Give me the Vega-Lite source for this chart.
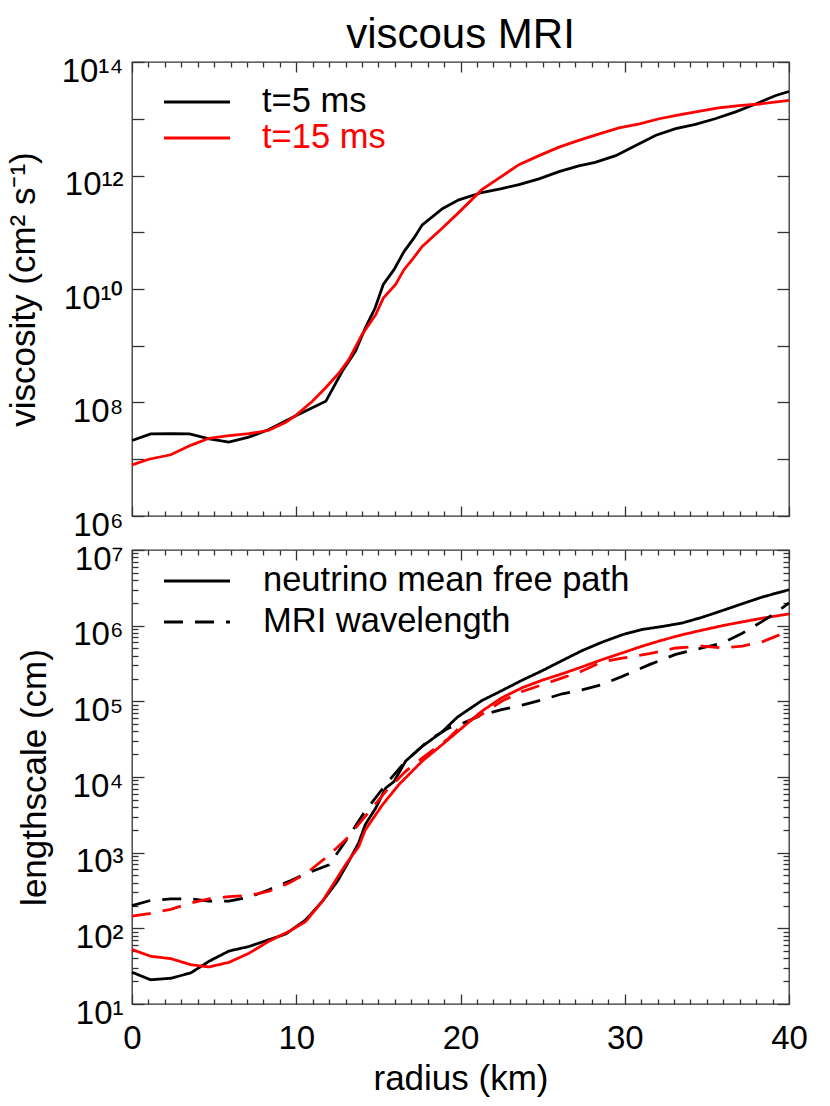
{
  "$schema": "https://vega.github.io/schema/vega-lite/v6.json",
  "padding": {"left": 5, "top": 13, "right": 5, "bottom": 5},
  "config": {
    "font": "Liberation Sans",
    "view": {"stroke": "#333333", "strokeWidth": 1.3},
    "axis": {"grid": false, "domain": false, "labelFontSize": 33, "titleFontSize": 35, "titleFontWeight": "normal", "labelColor": "#000000", "titleColor": "#000000", "tickColor": "#333333", "tickWidth": 1.3, "labelFlush": false, "labelOverlap": false, "labelBound": false},
    "legend": {"labelFontSize": 34.5, "labelLimit": 600}
  },
  "datasets": {
    "visc": [
      {"r": 0, "v": 2.14e7, "t": "t=5 ms"}, {"r": 1.14, "v": 2.79e7, "t": "t=5 ms"}, {"r": 2.4, "v": 2.82e7, "t": "t=5 ms"}, {"r": 3.5, "v": 2.79e7, "t": "t=5 ms"}, {"r": 4.7, "v": 2.28e7, "t": "t=5 ms"}, {"r": 5.9, "v": 2.0e7, "t": "t=5 ms"}, {"r": 7.1, "v": 2.45e7, "t": "t=5 ms"}, {"r": 8.3, "v": 3.31e7, "t": "t=5 ms"}, {"r": 10.0, "v": 5.89e7, "t": "t=5 ms"}, {"r": 11.8, "v": 1.05e8, "t": "t=5 ms"}, {"r": 12.8, "v": 3.55e8, "t": "t=5 ms"}, {"r": 13.6, "v": 7.94e8, "t": "t=5 ms"}, {"r": 14.2, "v": 2.04e9, "t": "t=5 ms"}, {"r": 14.8, "v": 4.62e9, "t": "t=5 ms"}, {"r": 15.3, "v": 1.2e10, "t": "t=5 ms"}, {"r": 15.95, "v": 2.19e10, "t": "t=5 ms"}, {"r": 16.56, "v": 4.57e10, "t": "t=5 ms"}, {"r": 17.17, "v": 7.94e10, "t": "t=5 ms"}, {"r": 17.67, "v": 1.35e11, "t": "t=5 ms"}, {"r": 18.9, "v": 2.6e11, "t": "t=5 ms"}, {"r": 19.9, "v": 3.72e11, "t": "t=5 ms"}, {"r": 21.3, "v": 5.01e11, "t": "t=5 ms"}, {"r": 22.5, "v": 5.89e11, "t": "t=5 ms"}, {"r": 23.56, "v": 6.92e11, "t": "t=5 ms"}, {"r": 24.78, "v": 8.71e11, "t": "t=5 ms"}, {"r": 26.0, "v": 1.17e12, "t": "t=5 ms"}, {"r": 27.2, "v": 1.48e12, "t": "t=5 ms"}, {"r": 28.2, "v": 1.7e12, "t": "t=5 ms"}, {"r": 29.45, "v": 2.24e12, "t": "t=5 ms"}, {"r": 30.67, "v": 3.39e12, "t": "t=5 ms"}, {"r": 31.9, "v": 5.13e12, "t": "t=5 ms"}, {"r": 33.1, "v": 6.68e12, "t": "t=5 ms"}, {"r": 34.3, "v": 7.94e12, "t": "t=5 ms"}, {"r": 35.5, "v": 1.0e13, "t": "t=5 ms"}, {"r": 36.75, "v": 1.32e13, "t": "t=5 ms"}, {"r": 37.97, "v": 1.82e13, "t": "t=5 ms"}, {"r": 39.2, "v": 2.57e13, "t": "t=5 ms"}, {"r": 40, "v": 3.02e13, "t": "t=5 ms"},
      {"r": 0, "v": 7.94e6, "t": "t=15 ms"}, {"r": 1.03, "v": 1.0e7, "t": "t=15 ms"}, {"r": 2.36, "v": 1.2e7, "t": "t=15 ms"}, {"r": 3.57, "v": 1.76e7, "t": "t=15 ms"}, {"r": 4.69, "v": 2.34e7, "t": "t=15 ms"}, {"r": 5.9, "v": 2.6e7, "t": "t=15 ms"}, {"r": 7.12, "v": 2.82e7, "t": "t=15 ms"}, {"r": 8.34, "v": 3.24e7, "t": "t=15 ms"}, {"r": 9.36, "v": 4.47e7, "t": "t=15 ms"}, {"r": 9.96, "v": 5.89e7, "t": "t=15 ms"}, {"r": 10.98, "v": 1.05e8, "t": "t=15 ms"}, {"r": 11.79, "v": 1.82e8, "t": "t=15 ms"}, {"r": 12.6, "v": 3.31e8, "t": "t=15 ms"}, {"r": 13.2, "v": 5.69e8, "t": "t=15 ms"}, {"r": 14.0, "v": 1.57e9, "t": "t=15 ms"}, {"r": 14.84, "v": 3.55e9, "t": "t=15 ms"}, {"r": 15.3, "v": 6.92e9, "t": "t=15 ms"}, {"r": 16.05, "v": 1.2e10, "t": "t=15 ms"}, {"r": 16.56, "v": 2.19e10, "t": "t=15 ms"}, {"r": 17.07, "v": 3.31e10, "t": "t=15 ms"}, {"r": 17.67, "v": 5.62e10, "t": "t=15 ms"}, {"r": 18.9, "v": 1.19e11, "t": "t=15 ms"}, {"r": 19.9, "v": 2.24e11, "t": "t=15 ms"}, {"r": 21.3, "v": 5.62e11, "t": "t=15 ms"}, {"r": 22.5, "v": 9.66e11, "t": "t=15 ms"}, {"r": 23.56, "v": 1.55e12, "t": "t=15 ms"}, {"r": 24.78, "v": 2.24e12, "t": "t=15 ms"}, {"r": 26.0, "v": 3.16e12, "t": "t=15 ms"}, {"r": 27.2, "v": 4.17e12, "t": "t=15 ms"}, {"r": 28.4, "v": 5.37e12, "t": "t=15 ms"}, {"r": 29.65, "v": 6.92e12, "t": "t=15 ms"}, {"r": 30.9, "v": 8.13e12, "t": "t=15 ms"}, {"r": 32.1, "v": 1.0e13, "t": "t=15 ms"}, {"r": 33.3, "v": 1.17e13, "t": "t=15 ms"}, {"r": 34.5, "v": 1.35e13, "t": "t=15 ms"}, {"r": 35.7, "v": 1.55e13, "t": "t=15 ms"}, {"r": 36.96, "v": 1.7e13, "t": "t=15 ms"}, {"r": 38.2, "v": 1.82e13, "t": "t=15 ms"}, {"r": 40, "v": 2.11e13, "t": "t=15 ms"}
    ],
    "len": [
      {"r": 0, "L": 26.3, "t": "t=5 ms", "q": "neutrino mean free path"}, {"r": 1.14, "L": 20.9, "t": "t=5 ms", "q": "neutrino mean free path"}, {"r": 2.36, "L": 21.9, "t": "t=5 ms", "q": "neutrino mean free path"}, {"r": 3.57, "L": 25.7, "t": "t=5 ms", "q": "neutrino mean free path"}, {"r": 4.69, "L": 36.7, "t": "t=5 ms", "q": "neutrino mean free path"}, {"r": 5.9, "L": 50.1, "t": "t=5 ms", "q": "neutrino mean free path"}, {"r": 7.12, "L": 57.5, "t": "t=5 ms", "q": "neutrino mean free path"}, {"r": 8.34, "L": 70.8, "t": "t=5 ms", "q": "neutrino mean free path"}, {"r": 9.36, "L": 84.1, "t": "t=5 ms", "q": "neutrino mean free path"}, {"r": 10.57, "L": 129, "t": "t=5 ms", "q": "neutrino mean free path"}, {"r": 11.6, "L": 229, "t": "t=5 ms", "q": "neutrino mean free path"}, {"r": 12.5, "L": 417, "t": "t=5 ms", "q": "neutrino mean free path"}, {"r": 13.2, "L": 769, "t": "t=5 ms", "q": "neutrino mean free path"}, {"r": 13.8, "L": 1349, "t": "t=5 ms", "q": "neutrino mean free path"}, {"r": 14.2, "L": 2344, "t": "t=5 ms", "q": "neutrino mean free path"}, {"r": 14.84, "L": 3890, "t": "t=5 ms", "q": "neutrino mean free path"}, {"r": 15.45, "L": 7161, "t": "t=5 ms", "q": "neutrino mean free path"}, {"r": 15.95, "L": 8710, "t": "t=5 ms", "q": "neutrino mean free path"}, {"r": 16.66, "L": 16220, "t": "t=5 ms", "q": "neutrino mean free path"}, {"r": 17.67, "L": 25410, "t": "t=5 ms", "q": "neutrino mean free path"}, {"r": 18.9, "L": 39810, "t": "t=5 ms", "q": "neutrino mean free path"}, {"r": 19.8, "L": 61660, "t": "t=5 ms", "q": "neutrino mean free path"}, {"r": 21.3, "L": 102300, "t": "t=5 ms", "q": "neutrino mean free path"}, {"r": 22.5, "L": 138000, "t": "t=5 ms", "q": "neutrino mean free path"}, {"r": 23.76, "L": 190500, "t": "t=5 ms", "q": "neutrino mean free path"}, {"r": 24.98, "L": 254100, "t": "t=5 ms", "q": "neutrino mean free path"}, {"r": 26.2, "L": 346700, "t": "t=5 ms", "q": "neutrino mean free path"}, {"r": 27.4, "L": 467700, "t": "t=5 ms", "q": "neutrino mean free path"}, {"r": 28.6, "L": 602600, "t": "t=5 ms", "q": "neutrino mean free path"}, {"r": 29.85, "L": 758600, "t": "t=5 ms", "q": "neutrino mean free path"}, {"r": 31.07, "L": 891300, "t": "t=5 ms", "q": "neutrino mean free path"}, {"r": 32.3, "L": 977200, "t": "t=5 ms", "q": "neutrino mean free path"}, {"r": 33.5, "L": 1084000, "t": "t=5 ms", "q": "neutrino mean free path"}, {"r": 34.7, "L": 1288000, "t": "t=5 ms", "q": "neutrino mean free path"}, {"r": 35.95, "L": 1585000, "t": "t=5 ms", "q": "neutrino mean free path"}, {"r": 37.16, "L": 1950000, "t": "t=5 ms", "q": "neutrino mean free path"}, {"r": 38.4, "L": 2399000, "t": "t=5 ms", "q": "neutrino mean free path"}, {"r": 40, "L": 2985000, "t": "t=5 ms", "q": "neutrino mean free path"},
      {"r": 0, "L": 52.5, "t": "t=15 ms", "q": "neutrino mean free path"}, {"r": 1.14, "L": 42.7, "t": "t=15 ms", "q": "neutrino mean free path"}, {"r": 2.36, "L": 39.8, "t": "t=15 ms", "q": "neutrino mean free path"}, {"r": 3.57, "L": 33.1, "t": "t=15 ms", "q": "neutrino mean free path"}, {"r": 4.69, "L": 30.9, "t": "t=15 ms", "q": "neutrino mean free path"}, {"r": 5.9, "L": 35.5, "t": "t=15 ms", "q": "neutrino mean free path"}, {"r": 7.12, "L": 46.8, "t": "t=15 ms", "q": "neutrino mean free path"}, {"r": 8.34, "L": 67.6, "t": "t=15 ms", "q": "neutrino mean free path"}, {"r": 9.56, "L": 91.2, "t": "t=15 ms", "q": "neutrino mean free path"}, {"r": 10.57, "L": 123, "t": "t=15 ms", "q": "neutrino mean free path"}, {"r": 11.6, "L": 229, "t": "t=15 ms", "q": "neutrino mean free path"}, {"r": 13.0, "L": 692, "t": "t=15 ms", "q": "neutrino mean free path"}, {"r": 13.8, "L": 1202, "t": "t=15 ms", "q": "neutrino mean free path"}, {"r": 14.2, "L": 1995, "t": "t=15 ms", "q": "neutrino mean free path"}, {"r": 15.24, "L": 4266, "t": "t=15 ms", "q": "neutrino mean free path"}, {"r": 16.25, "L": 7943, "t": "t=15 ms", "q": "neutrino mean free path"}, {"r": 17.67, "L": 16220, "t": "t=15 ms", "q": "neutrino mean free path"}, {"r": 18.9, "L": 26920, "t": "t=15 ms", "q": "neutrino mean free path"}, {"r": 19.8, "L": 39360, "t": "t=15 ms", "q": "neutrino mean free path"}, {"r": 21.3, "L": 74130, "t": "t=15 ms", "q": "neutrino mean free path"}, {"r": 22.5, "L": 110900, "t": "t=15 ms", "q": "neutrino mean free path"}, {"r": 23.76, "L": 151400, "t": "t=15 ms", "q": "neutrino mean free path"}, {"r": 24.98, "L": 190500, "t": "t=15 ms", "q": "neutrino mean free path"}, {"r": 26.2, "L": 231700, "t": "t=15 ms", "q": "neutrino mean free path"}, {"r": 27.4, "L": 285100, "t": "t=15 ms", "q": "neutrino mean free path"}, {"r": 28.6, "L": 354800, "t": "t=15 ms", "q": "neutrino mean free path"}, {"r": 29.85, "L": 436500, "t": "t=15 ms", "q": "neutrino mean free path"}, {"r": 31.07, "L": 537000, "t": "t=15 ms", "q": "neutrino mean free path"}, {"r": 32.3, "L": 645700, "t": "t=15 ms", "q": "neutrino mean free path"}, {"r": 33.5, "L": 758600, "t": "t=15 ms", "q": "neutrino mean free path"}, {"r": 34.7, "L": 871000, "t": "t=15 ms", "q": "neutrino mean free path"}, {"r": 35.95, "L": 1000000, "t": "t=15 ms", "q": "neutrino mean free path"}, {"r": 37.16, "L": 1122000, "t": "t=15 ms", "q": "neutrino mean free path"}, {"r": 38.4, "L": 1259000, "t": "t=15 ms", "q": "neutrino mean free path"}, {"r": 40, "L": 1429000, "t": "t=15 ms", "q": "neutrino mean free path"},
      {"r": 0, "L": 200, "t": "t=5 ms", "q": "MRI wavelength"}, {"r": 1.14, "L": 234, "t": "t=5 ms", "q": "MRI wavelength"}, {"r": 2.36, "L": 245, "t": "t=5 ms", "q": "MRI wavelength"}, {"r": 3.57, "L": 245, "t": "t=5 ms", "q": "MRI wavelength"}, {"r": 4.69, "L": 229, "t": "t=5 ms", "q": "MRI wavelength"}, {"r": 5.9, "L": 229, "t": "t=5 ms", "q": "MRI wavelength"}, {"r": 7.12, "L": 257, "t": "t=5 ms", "q": "MRI wavelength"}, {"r": 8.34, "L": 324, "t": "t=5 ms", "q": "MRI wavelength"}, {"r": 9.56, "L": 417, "t": "t=5 ms", "q": "MRI wavelength"}, {"r": 10.57, "L": 525, "t": "t=5 ms", "q": "MRI wavelength"}, {"r": 12.0, "L": 692, "t": "t=5 ms", "q": "MRI wavelength"}, {"r": 13.0, "L": 1413, "t": "t=5 ms", "q": "MRI wavelength"}, {"r": 14.2, "L": 3548, "t": "t=5 ms", "q": "MRI wavelength"}, {"r": 15.45, "L": 7943, "t": "t=5 ms", "q": "MRI wavelength"}, {"r": 16.66, "L": 16220, "t": "t=5 ms", "q": "MRI wavelength"}, {"r": 18.1, "L": 30900, "t": "t=5 ms", "q": "MRI wavelength"}, {"r": 19.3, "L": 44670, "t": "t=5 ms", "q": "MRI wavelength"}, {"r": 19.9, "L": 48980, "t": "t=5 ms", "q": "MRI wavelength"}, {"r": 21.3, "L": 66070, "t": "t=5 ms", "q": "MRI wavelength"}, {"r": 22.5, "L": 77620, "t": "t=5 ms", "q": "MRI wavelength"}, {"r": 23.76, "L": 89130, "t": "t=5 ms", "q": "MRI wavelength"}, {"r": 24.98, "L": 104700, "t": "t=5 ms", "q": "MRI wavelength"}, {"r": 26.2, "L": 125900, "t": "t=5 ms", "q": "MRI wavelength"}, {"r": 27.4, "L": 141300, "t": "t=5 ms", "q": "MRI wavelength"}, {"r": 28.6, "L": 166000, "t": "t=5 ms", "q": "MRI wavelength"}, {"r": 29.85, "L": 213800, "t": "t=5 ms", "q": "MRI wavelength"}, {"r": 31.5, "L": 305500, "t": "t=5 ms", "q": "MRI wavelength"}, {"r": 33.1, "L": 416900, "t": "t=5 ms", "q": "MRI wavelength"}, {"r": 34.7, "L": 507000, "t": "t=5 ms", "q": "MRI wavelength"}, {"r": 35.95, "L": 588800, "t": "t=5 ms", "q": "MRI wavelength"}, {"r": 37.16, "L": 794300, "t": "t=5 ms", "q": "MRI wavelength"}, {"r": 38.4, "L": 1148000, "t": "t=5 ms", "q": "MRI wavelength"}, {"r": 39.2, "L": 1479000, "t": "t=5 ms", "q": "MRI wavelength"}, {"r": 40, "L": 2000000, "t": "t=5 ms", "q": "MRI wavelength"},
      {"r": 0, "L": 145, "t": "t=15 ms", "q": "MRI wavelength"}, {"r": 1.14, "L": 158, "t": "t=15 ms", "q": "MRI wavelength"}, {"r": 2.36, "L": 178, "t": "t=15 ms", "q": "MRI wavelength"}, {"r": 3.57, "L": 216, "t": "t=15 ms", "q": "MRI wavelength"}, {"r": 4.69, "L": 245, "t": "t=15 ms", "q": "MRI wavelength"}, {"r": 5.9, "L": 263, "t": "t=15 ms", "q": "MRI wavelength"}, {"r": 7.12, "L": 272, "t": "t=15 ms", "q": "MRI wavelength"}, {"r": 8.34, "L": 309, "t": "t=15 ms", "q": "MRI wavelength"}, {"r": 9.56, "L": 398, "t": "t=15 ms", "q": "MRI wavelength"}, {"r": 10.57, "L": 525, "t": "t=15 ms", "q": "MRI wavelength"}, {"r": 11.79, "L": 851, "t": "t=15 ms", "q": "MRI wavelength"}, {"r": 13.0, "L": 1479, "t": "t=15 ms", "q": "MRI wavelength"}, {"r": 14.2, "L": 3020, "t": "t=15 ms", "q": "MRI wavelength"}, {"r": 15.45, "L": 6457, "t": "t=15 ms", "q": "MRI wavelength"}, {"r": 16.66, "L": 11890, "t": "t=15 ms", "q": "MRI wavelength"}, {"r": 17.67, "L": 17780, "t": "t=15 ms", "q": "MRI wavelength"}, {"r": 19.3, "L": 32730, "t": "t=15 ms", "q": "MRI wavelength"}, {"r": 20.1, "L": 48980, "t": "t=15 ms", "q": "MRI wavelength"}, {"r": 21.3, "L": 67610, "t": "t=15 ms", "q": "MRI wavelength"}, {"r": 22.5, "L": 100000, "t": "t=15 ms", "q": "MRI wavelength"}, {"r": 23.76, "L": 134900, "t": "t=15 ms", "q": "MRI wavelength"}, {"r": 24.98, "L": 166000, "t": "t=15 ms", "q": "MRI wavelength"}, {"r": 26.2, "L": 204200, "t": "t=15 ms", "q": "MRI wavelength"}, {"r": 27.4, "L": 251200, "t": "t=15 ms", "q": "MRI wavelength"}, {"r": 28.6, "L": 331100, "t": "t=15 ms", "q": "MRI wavelength"}, {"r": 29.85, "L": 371500, "t": "t=15 ms", "q": "MRI wavelength"}, {"r": 31.5, "L": 426600, "t": "t=15 ms", "q": "MRI wavelength"}, {"r": 33.1, "L": 507000, "t": "t=15 ms", "q": "MRI wavelength"}, {"r": 34.7, "L": 537000, "t": "t=15 ms", "q": "MRI wavelength"}, {"r": 35.95, "L": 507000, "t": "t=15 ms", "q": "MRI wavelength"}, {"r": 37.16, "L": 537000, "t": "t=15 ms", "q": "MRI wavelength"}, {"r": 38.4, "L": 616600, "t": "t=15 ms", "q": "MRI wavelength"}, {"r": 40, "L": 851100, "t": "t=15 ms", "q": "MRI wavelength"}
    ]
  },
  "resolve": {"scale": {"x": "independent", "y": "independent", "color": "independent", "strokeDash": "independent"}, "legend": {"color": "independent", "strokeDash": "independent"}},
  "spacing": 34,
  "bounds": "flush",
  "vconcat": [
    {
      "title": {"text": "viscous MRI", "fontSize": 42, "fontWeight": "normal", "anchor": "middle", "frame": "group", "offset": -2, "color": "#000000"},
      "width": 657,
      "height": 454,
      "data": {"name": "visc"},
      "layer": [
        {
          "mark": {"type": "line", "strokeWidth": 2.8},
          "encoding": {
            "x": {"field": "r", "type": "quantitative", "scale": {"domain": [0, 40], "nice": false, "zero": false}, "axis": {"orient": "bottom", "values": [0, 10, 20, 30, 40], "ticks": false, "labels": false, "title": null}},
            "y": {"field": "v", "type": "quantitative", "scale": {"type": "log", "domain": [1e6, 1e14], "nice": false}, "axis": {"orient": "left", "values": [1e6, 1e8, 1e10, 1e12, 1e14], "ticks": false, "labelPadding": 9, "labelOffset": 9, "labelExpr": "datum.value == 1e6 ? '10⁶' : datum.value == 1e8 ? '10⁸' : datum.value == 1e10 ? '10¹⁰' : datum.value == 1e12 ? '10¹²' : '10¹⁴'", "title": "viscosity (cm² s⁻¹)", "titlePadding": 20}},
            "color": {"field": "t", "type": "nominal", "scale": {"domain": ["t=5 ms", "t=15 ms"], "range": ["#000000", "#ff0000"]}, "legend": {"orient": "none", "legendX": 47, "legendY": 22, "title": null, "symbolType": "M-2,0H2", "symbolSize": 1089, "symbolStrokeWidth": 3, "labelOffset": 47, "rowPadding": 1, "labelColor": {"expr": "datum.label == 't=15 ms' ? '#ff0000' : '#000000'"}}}
          }
        },
        {
          "mark": {"type": "line", "opacity": 0},
          "encoding": {
            "x": {"field": "r", "type": "quantitative", "axis": {"orient": "bottom", "values": [0, 10, 20, 30, 40], "tickSize": -10, "labels": false, "title": null}},
            "y": {"field": "v", "type": "quantitative", "axis": {"orient": "left", "values": [1e6, 1e7, 1e8, 1e9, 1e10, 1e11, 1e12, 1e13, 1e14], "tickSize": -12, "labels": false, "title": null}},
            "detail": {"field": "t"}
          }
        },
        {
          "mark": {"type": "line", "opacity": 0},
          "encoding": {
            "x": {"field": "r", "type": "quantitative", "axis": {"orient": "bottom", "values": [1, 2, 3, 4, 5, 6, 7, 8, 9, 11, 12, 13, 14, 15, 16, 17, 18, 19, 21, 22, 23, 24, 25, 26, 27, 28, 29, 31, 32, 33, 34, 35, 36, 37, 38, 39], "tickSize": -5, "labels": false, "title": null}},
            "y": {"field": "v", "type": "quantitative", "axis": {"orient": "right", "values": [1e6, 1e7, 1e8, 1e9, 1e10, 1e11, 1e12, 1e13, 1e14], "tickSize": -12, "labels": false, "title": null}},
            "detail": {"field": "t"}
          }
        },
        {
          "mark": {"type": "line", "opacity": 0},
          "encoding": {
            "x": {"field": "r", "type": "quantitative", "axis": {"orient": "top", "values": [0, 10, 20, 30, 40], "tickSize": -10, "labels": false, "title": null}},
            "y": {"field": "v", "type": "quantitative", "axis": null},
            "detail": {"field": "t"}
          }
        },
        {
          "mark": {"type": "line", "opacity": 0},
          "encoding": {
            "x": {"field": "r", "type": "quantitative", "axis": {"orient": "top", "values": [1, 2, 3, 4, 5, 6, 7, 8, 9, 11, 12, 13, 14, 15, 16, 17, 18, 19, 21, 22, 23, 24, 25, 26, 27, 28, 29, 31, 32, 33, 34, 35, 36, 37, 38, 39], "tickSize": -5, "labels": false, "title": null}},
            "y": {"field": "v", "type": "quantitative", "axis": null},
            "detail": {"field": "t"}
          }
        }
      ],
      "resolve": {"axis": {"x": "independent", "y": "independent"}}
    },
    {
      "width": 657,
      "height": 454,
      "data": {"name": "len"},
      "layer": [
        {
          "mark": {"type": "line", "strokeWidth": 2.8},
          "encoding": {
            "x": {"field": "r", "type": "quantitative", "scale": {"domain": [0, 40], "nice": false, "zero": false}, "axis": {"orient": "bottom", "values": [0, 10, 20, 30, 40], "ticks": false, "labelPadding": 18, "title": "radius (km)", "titlePadding": 6}},
            "y": {"field": "L", "type": "quantitative", "scale": {"type": "log", "domain": [10, 1e7], "nice": false}, "axis": {"orient": "left", "values": [10, 100, 1000, 10000, 100000, 1000000, 10000000], "ticks": false, "labelPadding": 9, "labelOffset": 9, "labelExpr": "datum.value == 10 ? '10¹' : datum.value == 100 ? '10²' : datum.value == 1000 ? '10³' : datum.value == 10000 ? '10⁴' : datum.value == 100000 ? '10⁵' : datum.value == 1000000 ? '10⁶' : '10⁷'", "title": "lengthscale (cm)", "titlePadding": 20}},
            "color": {"field": "t", "type": "nominal", "scale": {"domain": ["t=5 ms", "t=15 ms"], "range": ["#000000", "#ff0000"]}, "legend": null},
            "strokeDash": {"field": "q", "type": "nominal", "scale": {"domain": ["neutrino mean free path", "MRI wavelength"], "range": [[1, 0], [19, 12]]}, "legend": {"orient": "none", "legendX": 47, "legendY": 13, "title": null, "symbolType": "M-2,0H2", "symbolSize": 1089, "symbolStrokeWidth": 3, "symbolStrokeColor": "#000000", "labelOffset": 48, "rowPadding": 6}}
          }
        },
        {
          "mark": {"type": "line", "opacity": 0},
          "encoding": {
            "x": {"field": "r", "type": "quantitative", "axis": {"orient": "bottom", "values": [0, 10, 20, 30, 40], "tickSize": -10, "labels": false, "title": null}},
            "y": {"field": "L", "type": "quantitative", "axis": {"orient": "left", "values": [10, 100, 1000, 10000, 100000, 1000000, 10000000], "tickSize": -12, "labels": false, "title": null}},
            "detail": {"field": "t"}
          }
        },
        {
          "mark": {"type": "line", "opacity": 0},
          "encoding": {
            "x": {"field": "r", "type": "quantitative", "axis": {"orient": "bottom", "values": [1, 2, 3, 4, 5, 6, 7, 8, 9, 11, 12, 13, 14, 15, 16, 17, 18, 19, 21, 22, 23, 24, 25, 26, 27, 28, 29, 31, 32, 33, 34, 35, 36, 37, 38, 39], "tickSize": -5, "labels": false, "title": null}},
            "y": {"field": "L", "type": "quantitative", "axis": {"orient": "left", "values": [20, 30, 40, 50, 60, 70, 80, 90, 200, 300, 400, 500, 600, 700, 800, 900, 2000, 3000, 4000, 5000, 6000, 7000, 8000, 9000, 20000, 30000, 40000, 50000, 60000, 70000, 80000, 90000, 200000, 300000, 400000, 500000, 600000, 700000, 800000, 900000, 2000000, 3000000, 4000000, 5000000, 6000000, 7000000, 8000000, 9000000], "tickSize": -6, "labels": false, "title": null}},
            "detail": {"field": "t"}
          }
        },
        {
          "mark": {"type": "line", "opacity": 0},
          "encoding": {
            "x": {"field": "r", "type": "quantitative", "axis": {"orient": "top", "values": [0, 10, 20, 30, 40], "tickSize": -10, "labels": false, "title": null}},
            "y": {"field": "L", "type": "quantitative", "axis": {"orient": "right", "values": [10, 100, 1000, 10000, 100000, 1000000, 10000000], "tickSize": -12, "labels": false, "title": null}},
            "detail": {"field": "t"}
          }
        },
        {
          "mark": {"type": "line", "opacity": 0},
          "encoding": {
            "x": {"field": "r", "type": "quantitative", "axis": {"orient": "top", "values": [1, 2, 3, 4, 5, 6, 7, 8, 9, 11, 12, 13, 14, 15, 16, 17, 18, 19, 21, 22, 23, 24, 25, 26, 27, 28, 29, 31, 32, 33, 34, 35, 36, 37, 38, 39], "tickSize": -5, "labels": false, "title": null}},
            "y": {"field": "L", "type": "quantitative", "axis": {"orient": "right", "values": [20, 30, 40, 50, 60, 70, 80, 90, 200, 300, 400, 500, 600, 700, 800, 900, 2000, 3000, 4000, 5000, 6000, 7000, 8000, 9000, 20000, 30000, 40000, 50000, 60000, 70000, 80000, 90000, 200000, 300000, 400000, 500000, 600000, 700000, 800000, 900000, 2000000, 3000000, 4000000, 5000000, 6000000, 7000000, 8000000, 9000000], "tickSize": -6, "labels": false, "title": null}},
            "detail": {"field": "t"}
          }
        }
      ],
      "resolve": {"axis": {"x": "independent", "y": "independent"}}
    }
  ]
}
